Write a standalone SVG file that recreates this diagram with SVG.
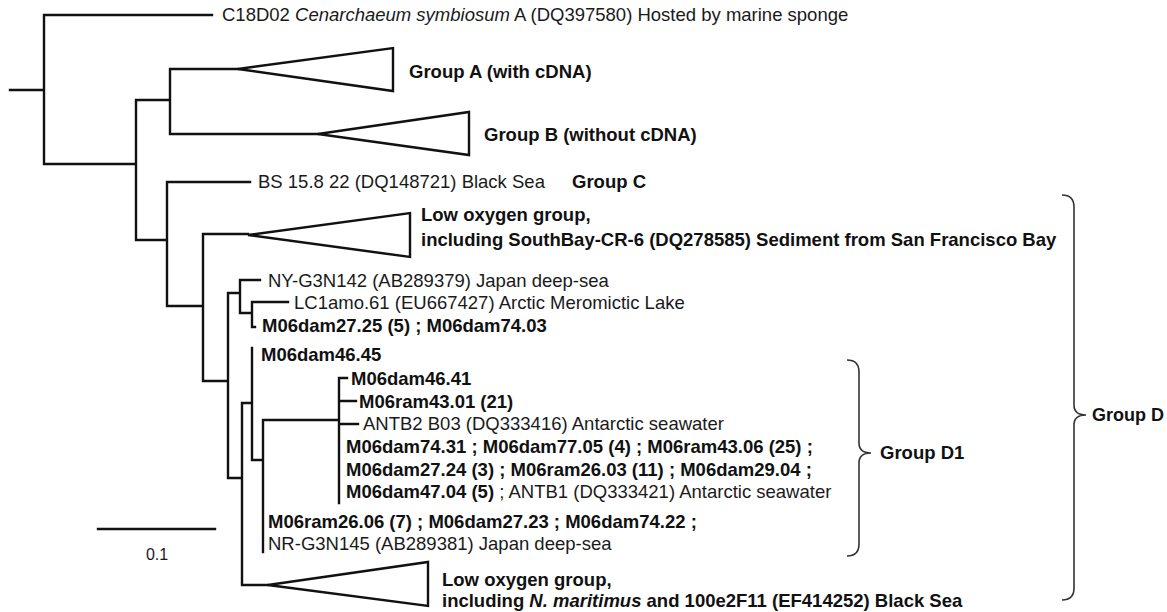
<svg xmlns="http://www.w3.org/2000/svg" width="1167" height="612" viewBox="0 0 1167 612">
<style>
.l{stroke:#111;stroke-width:2.4;fill:none;stroke-linecap:square}
.tri{stroke:#111;stroke-width:2.4;fill:#fff;stroke-linejoin:miter}
.r{font-family:"Liberation Sans",Arial,sans-serif;font-size:18.5px;font-weight:normal;fill:#1a1a1a}
.b{font-family:"Liberation Sans",Arial,sans-serif;font-size:18.5px;font-weight:bold;fill:#111}
.br{stroke:#333;stroke-width:1.6;fill:none}
.i{font-style:italic}
</style>
<rect width="1167" height="612" fill="#fff"/>
<g id="connectors">
<path class="l" d="M10 90H44M44 15V164M44 15H212M44 164H136M136 100V240M136 100H170M170 69V134M170 69H238M170 134H318M136 240H167M167 182V306M167 182H250M167 306H203M203 234V381M203 234H248M203 381H228M228 293V478M228 293H240M240 280V313M240 280H260M240 313H252M252 302V327M252 302H288M252 327H255M228 478H242M242 403V585M242 403H252M252 348V460M252 460H263M263 420V552M263 420H339M339 378V503M339 378H347M339 401H356M339 424H358M242 585H268"/>
</g>
<g id="c18d02"><text class="r" x="222" y="21">C18D02 <tspan class="i">Cenarchaeum symbiosum</tspan> A (DQ397580) Hosted by marine sponge</text></g>
<g id="groupA"><path class="tri" d="M238 69L393 48L393 91Z"/><text class="b" x="409" y="78">Group A (with cDNA)</text></g>
<g id="groupB"><path class="tri" d="M318 134L469 112L469 155Z"/><text class="b" x="484" y="141">Group B (without cDNA)</text></g>
<g id="groupC"><text class="r" x="258" y="188">BS 15.8 22 (DQ148721) Black Sea</text><text class="b" x="572" y="188">Group C</text></g>
<g id="lowox1"><path class="tri" d="M248 235L410 213L410 257Z"/><text class="b" x="421" y="221">Low oxygen group,</text><text class="b" x="421" y="246">including SouthBay-CR-6 (DQ278585) Sediment from San Francisco Bay</text></g>
<g id="ny"><text class="r" x="268" y="287">NY-G3N142 (AB289379) Japan deep-sea</text></g>
<g id="lc1"><text class="r" x="294" y="309">LC1amo.61 (EU667427) Arctic Meromictic Lake</text></g>
<g id="m2725"><text class="b" x="262" y="332">M06dam27.25 (5) ; M06dam74.03</text></g>
<g id="m4645"><text class="b" x="261" y="361">M06dam46.45</text></g>
<g id="m4641"><text class="b" x="351" y="385">M06dam46.41</text></g>
<g id="m4301"><text class="b" x="359" y="408">M06ram43.01 (21)</text></g>
<g id="antb2"><text class="r" x="363" y="430">ANTB2 B03 (DQ333416) Antarctic seawater</text></g>
<g id="d1a"><text class="b" x="346" y="453">M06dam74.31 ; M06dam77.05 (4) ; M06ram43.06 (25) ;</text></g>
<g id="d1b"><text class="b" x="346" y="476">M06dam27.24 (3) ; M06ram26.03 (11) ; M06dam29.04 ;</text></g>
<g id="d1c"><text class="b" x="346" y="498">M06dam47.04 (5) <tspan class="r">; ANTB1 (DQ333421) Antarctic seawater</tspan></text></g>
<g id="m2606"><text class="b" x="268" y="528">M06ram26.06 (7) ; M06dam27.23 ; M06dam74.22 ;</text></g>
<g id="nr"><text class="r" x="268" y="550">NR-G3N145 (AB289381) Japan deep-sea</text></g>
<g id="lowox2"><path class="tri" d="M268 585L428 562L428 606Z"/><text class="b" x="442" y="586">Low oxygen group,</text><text class="b" x="442" y="607">including <tspan class="i">N. maritimus</tspan> and 100e2F11 (EF414252) Black Sea</text></g>
<g id="groupD1"><path class="br" d="M847 360Q859 360 859 372L859 443Q859 453 871 453Q859 453 859 463L859 544Q859 556 847 556"/><text class="b" x="880" y="459">Group D1</text></g>
<g id="groupD"><path class="br" d="M1062 195Q1074 195 1074 207L1074 405Q1074 415 1086 415Q1074 415 1074 425L1074 588Q1074 600 1062 600"/><text class="b" x="1092" y="421" style="font-size:18px">Group D</text></g>
<g id="scale"><path class="l" d="M98 529H215"/><text class="r" x="157" y="560" text-anchor="middle" style="font-size:16px">0.1</text></g>
</svg>
